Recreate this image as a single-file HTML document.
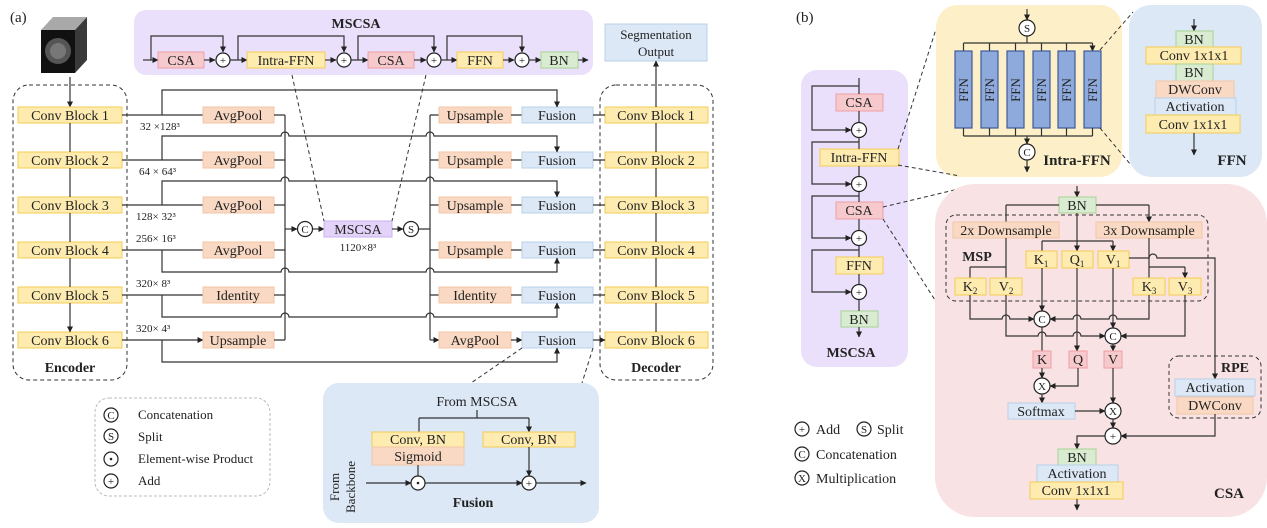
<!DOCTYPE html>
<html><head><meta charset="utf-8"><style>
html,body{margin:0;padding:0;background:#fff}
svg{display:block}
text{font-family:"Liberation Serif",serif;fill:#222}
.t{font-size:14px;text-anchor:middle}
.s{font-size:11px}
.bd{font-weight:bold}
.y{fill:#fdebb0;stroke:#f5cd55;stroke-width:1}
.o{fill:#f9d9c3;stroke:#f3c6a5;stroke-width:1}
.b{fill:#dce8f6;stroke:#b9d0ea;stroke-width:1}
.g{fill:#d9ecd2;stroke:#a6d493;stroke-width:1}
.p{fill:#f6c9cc;stroke:#ee9fa5;stroke-width:1}
.v{fill:#e3d3f8;stroke:#cbb0f0;stroke-width:1}
.l{fill:none;stroke:#333;stroke-width:1.2}
.a{fill:none;stroke:#333;stroke-width:1.2;marker-end:url(#ar)}
.d{fill:none;stroke:#333;stroke-width:1;stroke-dasharray:4 3}
.c{fill:#fff;stroke:#222;stroke-width:1.2}
.ffn{fill:#8eaadc;stroke:#3d5a99;stroke-width:1.2}
</style></head><body>
<svg width="1267" height="528" viewBox="0 0 1267 528" xmlns="http://www.w3.org/2000/svg">
<defs><marker id="ar" markerWidth="6" markerHeight="6" refX="5.5" refY="3" orient="auto" markerUnits="userSpaceOnUse"><path d="M0,0 L6,3 L0,6 z" fill="#222"/></marker></defs>

<!-- ===== (a) ===== -->
<text x="10" y="22" style="font-size:15px">(a)</text>
<!-- cube -->
<polygon points="41,30 53,17 87,17 75,30" fill="#a9a9a9"/>
<polygon points="75,30 87,17 87,60 75,73" fill="#3a3a3a"/>
<rect x="41" y="30" width="34" height="43" fill="#111"/>
<circle cx="58" cy="51" r="13" fill="#555"/><circle cx="58" cy="51" r="8" fill="#777"/>
<line class="a" x1="70" y1="77" x2="70" y2="107"/>

<!-- MSCSA top panel -->
<rect x="134" y="10" width="459" height="65" rx="12" fill="#ebe0fb"/>
<text x="356" y="28" class="t bd" style="font-size:14px">MSCSA</text>
<path class="a" d="M143 60 H158"/>
<rect class="p" x="158" y="52" width="46" height="16"/><text x="181" y="65" class="t">CSA</text>
<path class="a" d="M204 60 H215"/><circle class="c" cx="223" cy="60" r="7"/><text x="223" y="64" class="t" style="font-size:11px">+</text>
<path class="a" d="M230 60 H247"/>
<rect class="y" x="247" y="52" width="78" height="16"/><text x="286" y="65" class="t">Intra-FFN</text>
<path class="a" d="M325 60 H336"/><circle class="c" cx="344" cy="60" r="7"/><text x="344" y="64" class="t" style="font-size:11px">+</text>
<path class="a" d="M351 60 H368"/>
<rect class="p" x="368" y="52" width="46" height="16"/><text x="391" y="65" class="t">CSA</text>
<path class="a" d="M414 60 H426"/><circle class="c" cx="434" cy="60" r="7"/><text x="434" y="64" class="t" style="font-size:11px">+</text>
<path class="a" d="M441 60 H457"/>
<rect class="y" x="457" y="52" width="46" height="16"/><text x="480" y="65" class="t">FFN</text>
<path class="a" d="M503 60 H514"/><circle class="c" cx="522" cy="60" r="7"/><text x="522" y="64" class="t" style="font-size:11px">+</text>
<path class="a" d="M529 60 H541"/>
<rect class="g" x="541" y="52" width="37" height="16"/><text x="559" y="65" class="t">BN</text>
<path class="a" d="M578 60 H588"/>
<path class="a" d="M151 60 V36 H223 V52"/>
<path class="a" d="M238 60 V36 H344 V52"/>
<path class="a" d="M358 60 V36 H434 V52"/>
<path class="a" d="M447 60 V36 H522 V52"/>

<!-- Segmentation output -->
<rect class="b" x="605" y="24" width="102" height="37"/>
<text x="656" y="39" class="t" style="font-size:13px">Segmentation</text>
<text x="656" y="56" class="t" style="font-size:13px">Output</text>

<!-- encoder / decoder boxes -->
<rect class="d" x="13" y="85" width="114" height="295" rx="16"/>
<rect class="d" x="600" y="85" width="113" height="295" rx="16"/>
<text x="70" y="372" class="t bd">Encoder</text>
<text x="656" y="372" class="t bd">Decoder</text>

<!-- rows -->
<g>
<rect class="y" x="18" y="107" width="104" height="16"/><text x="70" y="120" class="t">Conv Block 1</text>
<rect class="y" x="18" y="152" width="104" height="16"/><text x="70" y="165" class="t">Conv Block 2</text>
<rect class="y" x="18" y="197" width="104" height="16"/><text x="70" y="210" class="t">Conv Block 3</text>
<rect class="y" x="18" y="242" width="104" height="16"/><text x="70" y="255" class="t">Conv Block 4</text>
<rect class="y" x="18" y="287" width="104" height="16"/><text x="70" y="300" class="t">Conv Block 5</text>
<rect class="y" x="18" y="332" width="104" height="16"/><text x="70" y="345" class="t">Conv Block 6</text>
<path class="a" d="M70 123 V152 M70 168 V197 M70 213 V242 M70 258 V287 M70 303 V332"/>

<rect class="y" x="605" y="107" width="103" height="16"/><text x="656" y="120" class="t">Conv Block 1</text>
<rect class="y" x="605" y="152" width="103" height="16"/><text x="656" y="165" class="t">Conv Block 2</text>
<rect class="y" x="605" y="197" width="103" height="16"/><text x="656" y="210" class="t">Conv Block 3</text>
<rect class="y" x="605" y="242" width="103" height="16"/><text x="656" y="255" class="t">Conv Block 4</text>
<rect class="y" x="605" y="287" width="103" height="16"/><text x="656" y="300" class="t">Conv Block 5</text>
<rect class="y" x="605" y="332" width="103" height="16"/><text x="656" y="345" class="t">Conv Block 6</text>
<path class="a" d="M656 332 V303 M656 287 V258 M656 242 V213 M656 197 V168 M656 152 V123 M656 107 V61"/>

<!-- encoder -> pooling -->
<path class="a" d="M122 115 H203 M122 160 H203 M122 205 H203 M122 250 H203 M122 295 H203 M122 340 H203"/>
<text x="140" y="130" class="s">32 ×128³</text>
<text x="139" y="175" class="s">64 ×  64³</text>
<text x="136" y="220" class="s">128×  32³</text>
<text x="136" y="242" class="s">256×  16³</text>
<text x="136" y="287" class="s">320×   8³</text>
<text x="136" y="332" class="s">320×   4³</text>

<rect class="o" x="203" y="107" width="71" height="16"/><text x="238" y="120" class="t">AvgPool</text>
<rect class="o" x="203" y="152" width="71" height="16"/><text x="238" y="165" class="t">AvgPool</text>
<rect class="o" x="203" y="197" width="71" height="16"/><text x="238" y="210" class="t">AvgPool</text>
<rect class="o" x="203" y="242" width="71" height="16"/><text x="238" y="255" class="t">AvgPool</text>
<rect class="o" x="203" y="287" width="71" height="16"/><text x="238" y="300" class="t">Identity</text>
<rect class="o" x="203" y="332" width="71" height="16"/><text x="238" y="345" class="t">Upsample</text>

<path class="l" d="M274 115 H285 M274 160 H285 M274 205 H285 M274 250 H285 M274 295 H285 M274 340 H285 M285 115 V340"/>
<path class="a" d="M285 229 H297"/>
<circle class="c" cx="305" cy="229" r="7.5"/><text x="305" y="233" class="t" style="font-size:11px">C</text>
<path class="a" d="M313 229 H324"/>
<rect class="v" x="324" y="221" width="68" height="16"/><text x="358" y="234" class="t">MSCSA</text>
<text x="358" y="251" class="t" style="font-size:11px">1120×8³</text>
<path class="a" d="M392 229 H403"/>
<circle class="c" cx="411" cy="229" r="7.5"/><text x="411" y="233" class="t" style="font-size:11px">S</text>
<path class="l" d="M419 229 H430 M430 115 V340"/>
<path class="a" d="M430 115 H439 M430 160 H439 M430 205 H439 M430 250 H439 M430 295 H439 M430 340 H439"/>

<rect class="o" x="439" y="107" width="72" height="16"/><text x="475" y="120" class="t">Upsample</text>
<rect class="o" x="439" y="152" width="72" height="16"/><text x="475" y="165" class="t">Upsample</text>
<rect class="o" x="439" y="197" width="72" height="16"/><text x="475" y="210" class="t">Upsample</text>
<rect class="o" x="439" y="242" width="72" height="16"/><text x="475" y="255" class="t">Upsample</text>
<rect class="o" x="439" y="287" width="72" height="16"/><text x="475" y="300" class="t">Identity</text>
<rect class="o" x="439" y="332" width="72" height="16"/><text x="475" y="345" class="t">AvgPool</text>

<path class="a" d="M511 115 H522 M511 160 H522 M511 205 H522 M511 250 H522 M511 295 H522 M511 340 H522"/>
<rect class="b" x="522" y="107" width="71" height="16"/><text x="557" y="120" class="t">Fusion</text>
<rect class="b" x="522" y="152" width="71" height="16"/><text x="557" y="165" class="t">Fusion</text>
<rect class="b" x="522" y="197" width="71" height="16"/><text x="557" y="210" class="t">Fusion</text>
<rect class="b" x="522" y="242" width="71" height="16"/><text x="557" y="255" class="t">Fusion</text>
<rect class="b" x="522" y="287" width="71" height="16"/><text x="557" y="300" class="t">Fusion</text>
<rect class="b" x="522" y="332" width="71" height="16"/><text x="557" y="345" class="t">Fusion</text>
<path class="a" d="M593 115 H605 M593 160 H605 M593 205 H605 M593 250 H605 M593 295 H605 M593 340 H605"/>

<!-- skip lines -->
<path class="a" d="M162 115 V90 H557 V107"/>
<path class="a" d="M162 160 V136 H281 a4 4 0 0 1 8 0 H426 a4 4 0 0 1 8 0 H557 V152"/>
<path class="a" d="M162 205 V181 H281 a4 4 0 0 1 8 0 H426 a4 4 0 0 1 8 0 H557 V197"/>
<path class="a" d="M162 250 V272 H281 a4 4 0 0 1 8 0 H426 a4 4 0 0 1 8 0 H557 V258"/>
<path class="a" d="M162 295 V317 H281 a4 4 0 0 1 8 0 H426 a4 4 0 0 1 8 0 H557 V303"/>
<path class="a" d="M162 340 V362 H557 V348"/>
</g>

<!-- dashed zoom lines (a) -->
<path class="d" d="M292 75 L324 221 M426 75 L392 221 M522 348 L471 383 M593 348 L582 383"/>

<!-- legend (a) -->
<rect x="95" y="398" width="175" height="98" rx="14" fill="none" stroke="#bbb" stroke-dasharray="3 2"/>
<circle class="c" cx="111" cy="415" r="7"/><text x="111" y="419" class="t" style="font-size:11px">C</text>
<circle class="c" cx="111" cy="436" r="7"/><text x="111" y="440" class="t" style="font-size:11px">S</text>
<circle class="c" cx="111" cy="459" r="7"/><circle cx="111" cy="459" r="1.3" fill="#222"/>
<circle class="c" cx="111" cy="481" r="7"/><text x="111" y="485" class="t" style="font-size:11px">+</text>
<text x="138" y="419" style="font-size:13px">Concatenation</text>
<text x="138" y="441" style="font-size:13px">Split</text>
<text x="138" y="463" style="font-size:13px">Element-wise Product</text>
<text x="138" y="485" style="font-size:13px">Add</text>

<!-- Fusion detail -->
<rect x="323" y="383" width="276" height="140" rx="16" fill="#dce8f6"/>
<text x="477" y="406" class="t">From MSCSA</text>
<path class="l" d="M477 410 V418 M419 418 H529"/>
<path class="a" d="M419 418 V432 M529 418 V432"/>
<rect class="y" x="372" y="432" width="92" height="15"/><text x="418" y="444" class="t">Conv, BN</text>
<rect class="o" x="372" y="447" width="92" height="18"/><text x="418" y="461" class="t">Sigmoid</text>
<rect class="y" x="483" y="432" width="92" height="15"/><text x="529" y="444" class="t">Conv, BN</text>
<path class="a" d="M418 465 V476 M529 447 V476"/>
<path class="a" d="M366 483 H411"/>
<circle class="c" cx="418" cy="483" r="7"/><circle cx="418" cy="483" r="1.3" fill="#222"/>
<path class="a" d="M425 483 H522"/>
<circle class="c" cx="529" cy="483" r="7"/><text x="529" y="487" class="t" style="font-size:11px">+</text>
<path class="a" d="M536 483 H586"/>
<text transform="translate(339,487) rotate(-90)" class="t" style="font-size:13px">From</text>
<text transform="translate(355,487) rotate(-90)" class="t" style="font-size:13px">Backbone</text>
<text x="473" y="507" class="t bd">Fusion</text>

<!-- ===== (b) ===== -->
<text x="796" y="22" style="font-size:15px">(b)</text>

<!-- MSCSA left panel -->
<rect x="801" y="70" width="107" height="297" rx="16" fill="#ebe0fb"/>
<rect class="p" x="836" y="94" width="47" height="17"/><text x="859" y="107" class="t">CSA</text>
<circle class="c" cx="859" cy="130" r="7.5"/><text x="859" y="134" class="t" style="font-size:11px">+</text>
<rect class="y" x="820" y="149" width="79" height="17"/><text x="859" y="162" class="t">Intra-FFN</text>
<circle class="c" cx="859" cy="184" r="7.5"/><text x="859" y="188" class="t" style="font-size:11px">+</text>
<rect class="p" x="836" y="202" width="47" height="17"/><text x="859" y="215" class="t">CSA</text>
<circle class="c" cx="859" cy="238" r="7.5"/><text x="859" y="242" class="t" style="font-size:11px">+</text>
<rect class="y" x="836" y="257" width="47" height="17"/><text x="859" y="270" class="t">FFN</text>
<circle class="c" cx="859" cy="292" r="7.5"/><text x="859" y="296" class="t" style="font-size:11px">+</text>
<rect class="g" x="841" y="311" width="37" height="16"/><text x="859" y="324" class="t">BN</text>
<path class="a" d="M859 78 V94 M859 111 V122 M859 138 V149 M859 166 V176 M859 192 V202 M859 219 V230 M859 246 V257 M859 274 V284 M859 300 V311 M859 327 V337"/>
<path class="a" d="M859 86 H812 V130 H851"/>
<path class="a" d="M859 142 H812 V184 H851"/>
<path class="a" d="M859 196 H812 V238 H851"/>
<path class="a" d="M859 250 H812 V292 H851"/>
<text x="851" y="357" class="t bd">MSCSA</text>

<!-- legend (b) -->
<circle class="c" cx="802" cy="429" r="7"/><text x="802" y="433" class="t" style="font-size:11px">+</text>
<text x="816" y="434" style="font-size:14px">Add</text>
<circle class="c" cx="864" cy="429" r="7"/><text x="864" y="433" class="t" style="font-size:11px">S</text>
<text x="877" y="434" style="font-size:14px">Split</text>
<circle class="c" cx="802" cy="454" r="7"/><text x="802" y="458" class="t" style="font-size:11px">C</text>
<text x="816" y="459" style="font-size:14px">Concatenation</text>
<circle class="c" cx="802" cy="478" r="7"/><text x="802" y="482" class="t" style="font-size:11px">X</text>
<text x="816" y="483" style="font-size:14px">Multiplication</text>

<!-- Intra-FFN panel -->
<rect x="936" y="5" width="186" height="172" rx="22" fill="#fdf0c8"/>
<path class="a" d="M1027 9 V20"/>
<circle class="c" cx="1027" cy="28" r="8"/><text x="1027" y="32" class="t" style="font-size:11px">S</text>
<path class="l" d="M1027 36 V43 M963.5 43 H1092.5"/>
<path class="a" d="M963.5 43 V51 M989.5 43 V51 M1015.5 43 V51 M1041.5 43 V51 M1066.5 43 V51 M1092.5 43 V51"/>
<g>
<rect class="ffn" x="955" y="51" width="17" height="77"/>
<rect class="ffn" x="981" y="51" width="17" height="77"/>
<rect class="ffn" x="1007" y="51" width="17" height="77"/>
<rect class="ffn" x="1033" y="51" width="17" height="77"/>
<rect class="ffn" x="1058" y="51" width="17" height="77"/>
<rect class="ffn" x="1084" y="51" width="17" height="77"/>
<text transform="translate(968,90) rotate(-90)" class="t" style="font-size:13px">FFN</text>
<text transform="translate(994,90) rotate(-90)" class="t" style="font-size:13px">FFN</text>
<text transform="translate(1020,90) rotate(-90)" class="t" style="font-size:13px">FFN</text>
<text transform="translate(1046,90) rotate(-90)" class="t" style="font-size:13px">FFN</text>
<text transform="translate(1071,90) rotate(-90)" class="t" style="font-size:13px">FFN</text>
<text transform="translate(1097,90) rotate(-90)" class="t" style="font-size:13px">FFN</text>
</g>
<path class="l" d="M963.5 128 V136 M989.5 128 V136 M1015.5 128 V136 M1041.5 128 V136 M1066.5 128 V136 M1092.5 128 V136 M963.5 136 H1092.5"/>
<path class="a" d="M1027 136 V144"/>
<circle class="c" cx="1027" cy="152" r="8"/><text x="1027" y="156" class="t" style="font-size:11px">C</text>
<path class="a" d="M1027 160 V172"/>
<text x="1077" y="165" class="t bd" style="font-size:15px">Intra-FFN</text>

<!-- FFN panel -->
<rect x="1129" y="5" width="133" height="172" rx="22" fill="#dce8f6"/>
<path class="a" d="M1194 19 V31"/>
<rect class="g" x="1176" y="31" width="37" height="16"/><text x="1194" y="44" class="t">BN</text>
<rect class="y" x="1146" y="47" width="95" height="17"/><text x="1194" y="60" class="t">Conv 1x1x1</text>
<rect class="g" x="1176" y="64" width="37" height="17"/><text x="1194" y="77" class="t">BN</text>
<rect class="o" x="1156" y="81" width="78" height="17"/><text x="1195" y="94" class="t">DWConv</text>
<rect class="b" x="1155" y="98" width="81" height="17"/><text x="1195" y="111" class="t">Activation</text>
<rect class="y" x="1146" y="115" width="94" height="18"/><text x="1193" y="129" class="t">Conv 1x1x1</text>
<path class="a" d="M1194 133 V155"/>
<text x="1232" y="165" class="t bd" style="font-size:15px">FFN</text>

<!-- dashed zoom lines (b) -->
<path class="d" d="M898 149 L936 29 M898 165 L960 176 M883 207 L967 187 M883 219 L935 300 M1100 50 L1133 12 M1100 128 L1131 165"/>

<!-- CSA panel -->
<rect x="935" y="184" width="332" height="333" rx="40" fill="#f8e2e4"/>
<path class="a" d="M1077 186 V197"/>
<rect class="g" x="1059" y="197" width="37" height="16"/><text x="1077" y="210" class="t">BN</text>
<path class="l" d="M1059 205 H1006 M1096 205 H1149"/>
<path class="a" d="M1006 205 V222 M1149 205 V222"/>
<rect class="d" x="946" y="215" width="262" height="86" rx="10"/>
<rect class="o" x="953" y="222" width="106" height="16"/><text x="1006" y="235" class="t">2x Downsample</text>
<rect class="o" x="1096" y="222" width="106" height="16"/><text x="1149" y="235" class="t">3x Downsample</text>
<text x="977" y="261" class="t bd">MSP</text>
<path class="a" d="M1077 213 V251"/>
<path class="l" d="M1042 241 H1113"/>
<path class="a" d="M1042 241 V251 M1113 241 V251"/>
<rect class="y" x="1026" y="251" width="31" height="17"/><text x="1041" y="264" class="t">K<tspan style="font-size:9px" dy="3">1</tspan></text>
<rect class="y" x="1062" y="251" width="31" height="17"/><text x="1077" y="264" class="t">Q<tspan style="font-size:9px" dy="3">1</tspan></text>
<rect class="y" x="1098" y="251" width="31" height="17"/><text x="1113" y="264" class="t">V<tspan style="font-size:9px" dy="3">1</tspan></text>
<path class="l" d="M1006 238 V267 M970 267 H1006 M1149 238 V267 M1149 267 H1185"/>
<path class="a" d="M970 267 V278 M1006 267 V278 M1149 267 V278 M1185 267 V278"/>
<rect class="y" x="955" y="278" width="31" height="17"/><text x="970" y="291" class="t">K<tspan style="font-size:9px" dy="3">2</tspan></text>
<rect class="y" x="990" y="278" width="32" height="17"/><text x="1006" y="291" class="t">V<tspan style="font-size:9px" dy="3">2</tspan></text>
<rect class="y" x="1133" y="278" width="32" height="17"/><text x="1149" y="291" class="t">K<tspan style="font-size:9px" dy="3">3</tspan></text>
<rect class="y" x="1169" y="278" width="32" height="17"/><text x="1185" y="291" class="t">V<tspan style="font-size:9px" dy="3">3</tspan></text>

<!-- concat C1 -->
<path class="a" d="M970 295 V319 H1002 a4 4 0 0 1 8 0 H1034"/>
<path class="a" d="M1149 295 V319 H1117 a4 4 0 0 0 -8 0 H1081 a4 4 0 0 0 -8 0 H1050"/>
<path class="a" d="M1042 268 V311"/>
<circle class="c" cx="1042" cy="319" r="8"/><text x="1042" y="323" class="t" style="font-size:11px">C</text>
<!-- concat C2 -->
<path class="a" d="M1006 295 V336 H1038 a4 4 0 0 1 8 0 H1073 a4 4 0 0 1 8 0 H1105"/>
<path class="a" d="M1185 295 V336 H1121"/>
<path class="a" d="M1113 268 V328"/>
<circle class="c" cx="1113" cy="336" r="8"/><text x="1113" y="340" class="t" style="font-size:11px">C</text>
<path class="a" d="M1077 268 V351"/>
<path class="a" d="M1042 327 V351 M1113 344 V351"/>
<rect class="p" x="1033" y="351" width="18" height="17"/><text x="1042" y="364" class="t">K</text>
<rect class="p" x="1069" y="351" width="18" height="17"/><text x="1078" y="364" class="t">Q</text>
<rect class="p" x="1104" y="351" width="18" height="17"/><text x="1113" y="364" class="t">V</text>
<path class="a" d="M1042 368 V378"/>
<circle class="c" cx="1042" cy="386" r="8"/><text x="1042" y="390" class="t" style="font-size:11px">X</text>
<path class="a" d="M1078 368 V386 H1050"/>
<path class="a" d="M1042 394 V403"/>
<rect class="b" x="1008" y="403" width="67" height="16"/><text x="1041" y="416" class="t">Softmax</text>
<path class="a" d="M1075 411 H1105"/>
<path class="a" d="M1113 368 V403"/>
<circle class="c" cx="1113" cy="411" r="8"/><text x="1113" y="415" class="t" style="font-size:11px">X</text>
<path class="a" d="M1113 419 V428"/>
<circle class="c" cx="1113" cy="436" r="8"/><text x="1113" y="440" class="t" style="font-size:11px">+</text>

<!-- RPE -->
<path class="a" d="M1129 258 H1149 a4 4 0 0 1 8 0 H1215 V379"/>
<rect class="d" x="1169" y="356" width="92" height="62" rx="10"/>
<text x="1235" y="372" class="t bd">RPE</text>
<rect class="b" x="1175" y="379" width="80" height="17"/><text x="1215" y="392" class="t">Activation</text>
<rect class="o" x="1177" y="397" width="76" height="17"/><text x="1215" y="410" class="t">DWConv</text>
<path class="a" d="M1215 414 V436 H1121"/>
<path class="a" d="M1105 436 H1077 V449"/>
<rect class="g" x="1058" y="449" width="38" height="16"/><text x="1077" y="462" class="t">BN</text>
<rect class="b" x="1037" y="465" width="81" height="17"/><text x="1077" y="478" class="t">Activation</text>
<rect class="y" x="1030" y="482" width="93" height="17"/><text x="1076" y="495" class="t">Conv 1x1x1</text>
<path class="a" d="M1077 499 V510"/>
<text x="1229" y="498" class="t bd" style="font-size:15px">CSA</text>
</svg>
</body></html>
